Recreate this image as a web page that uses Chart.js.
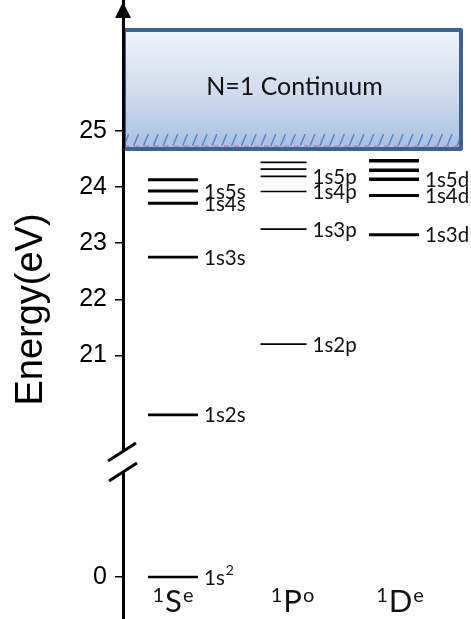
<!DOCTYPE html>
<html>
<head>
<meta charset="utf-8">
<script src="https://cdn.jsdelivr.net/npm/chart.js@4.4.1/dist/chart.umd.min.js"></script>
<style>
  html, body { margin: 0; padding: 0; background: #fff; }
  #wrap { width: 471px; height: 619px; }
</style>
</head>
<body>
<div id="wrap"><canvas id="levels" width="471" height="619"></canvas></div>
<script>
// Singlet terms of helium, one column each
const TERMS = ['S', 'P', 'D'];
const PARITY = ['e', 'o', 'e'];

// Level energies (eV) and their labels, per term; '^' marks a superscript
const S_LEVELS = [0, 19.94, 22.75, 23.71, 23.93, 24.13];
const S_LABELS = ['1s^2', '1s2s', '1s3s', '1s4s', '1s5s', ''];
const P_LEVELS = [21.20, 23.25, 23.92, 24.19, 24.32, 24.44];
const P_LABELS = ['1s2p', '1s3p', '1s4p', '1s5p', '', ''];
const D_LEVELS = [23.15, 23.85, 24.14, 24.30, 24.47];
const D_LABELS = ['1s3d', '1s4d', '1s5d', '', ''];

// Line weights of each level
const S_WIDTHS = [2.4, 2.8, 2.8, 3, 3, 3];
const P_WIDTHS = [1.6, 1.6, 1.6, 1.6, 1.6, 1.6];
const D_WIDTHS = [3, 3.2, 3.4, 3.4, 3.4];

const Y_TICKS = [0, 21, 22, 23, 24, 25];

// N=1 continuum: ionization threshold and top of the drawn band
const IONIZATION = 24.68;
const HATCH_TOP = 24.95;
const CONT_TOP = 26.80;

// broken axis: energies below BREAK_BELOW are lifted by LOW_SHIFT
const BREAK_BELOW = 19;
const LOW_SHIFT = 17.05;
const AXIS_BREAK = 19.1;
const Y_MIN = 16.30, Y_MAX = 27.335;
const X_MIN = -0.4525, X_MAX = 2.606;

const LABEL_FONT = '20.5px Lato, "Open Sans", sans-serif';
const SUP_FONT = '14px Lato, "Open Sans", sans-serif';
const TERM_NUDGE = [0, 9, 6];

class BrokenLinearScale extends Chart.LinearScale {
  static id = 'brokenLinear';
  static defaults = Chart.LinearScale.defaults;
  getPixelForValue(value) {
    if (value === null || value === undefined) return NaN;
    return super.getPixelForValue(value < BREAK_BELOW ? value + LOW_SHIFT : value);
  }
  buildTicks() {
    return Y_TICKS.map(v => ({ value: v }));
  }
}
Chart.register(BrokenLinearScale);

function levelPoints(levels, idx) {
  return levels.map(e => ({ x: idx, y: e }));
}

// text with optional superscript part after '^'
function drawSup(ctx, str, x, y, font, supFont, supRise) {
  const [base, sup] = str.split('^');
  ctx.font = font;
  ctx.fillText(base, x, y);
  if (sup) {
    const w = ctx.measureText(base).width;
    ctx.font = supFont;
    ctx.fillText(sup, x + w + 1, y - supRise);
  }
}

const continuum = {
  id: 'continuum',
  beforeDraw(chart) {
    const { ctx, chartArea: area } = chart;
    const y = chart.scales.y;
    const top = y.getPixelForValue(CONT_TOP);
    const bot = y.getPixelForValue(IONIZATION);
    const hTop = y.getPixelForValue(HATCH_TOP);
    const left = area.left + 1, right = area.right;
    ctx.save();
    const g = ctx.createLinearGradient(0, top, 0, bot);
    g.addColorStop(0, '#f1f4fa');
    g.addColorStop(0.55, '#cfdaec');
    g.addColorStop(1, '#a9bfdf');
    ctx.fillStyle = g;
    ctx.fillRect(left, top, right - left, bot - top);

    // hatching along the threshold
    ctx.save();
    ctx.beginPath();
    ctx.rect(left, hTop, right - left, bot - hTop - 3);
    ctx.clip();
    ctx.strokeStyle = '#4f86d6';
    ctx.lineWidth = 1.5;
    ctx.beginPath();
    for (let x = left - 10; x < right + 10; x += 9.8) {
      ctx.moveTo(x, bot - 3);
      ctx.lineTo(x + 5, hTop);
    }
    ctx.stroke();
    ctx.restore();

    ctx.setLineDash([5, 5]);
    ctx.strokeStyle = '#c274b6';
    ctx.lineWidth = 1.2;
    ctx.beginPath();
    ctx.moveTo(left, bot - 3);
    ctx.lineTo(right, bot - 3);
    ctx.stroke();
    ctx.setLineDash([]);

    ctx.strokeStyle = '#3f6391';
    ctx.lineWidth = 4;
    ctx.lineJoin = 'round';
    ctx.strokeRect(left, top, right - left, bot - top);

    ctx.fillStyle = '#111';
    ctx.font = '25px Lato, "Open Sans", sans-serif';
    ctx.textAlign = 'center';
    ctx.textBaseline = 'middle';
    ctx.fillText('N=1 Continuum', (left + right) / 2 + 2, (top + bot) / 2 - 3);
    ctx.restore();
  }
};

const annotations = {
  id: 'annotations',
  afterDraw(chart) {
    const { ctx, chartArea: area } = chart;
    const xs = chart.scales.x, ys = chart.scales.y;
    const ax = area.left;
    ctx.save();

    // arrow head on the energy axis
    ctx.fillStyle = '#000';
    ctx.beginPath();
    ctx.moveTo(ax, area.top + 2);
    ctx.lineTo(ax - 8, area.top + 18);
    ctx.lineTo(ax + 8, area.top + 18);
    ctx.closePath();
    ctx.fill();

    // axis break
    const yb = ys.getPixelForValue(AXIS_BREAK);
    ctx.fillStyle = '#fff';
    ctx.fillRect(ax - 4, yb - 11, 8, 22);
    ctx.strokeStyle = '#000';
    ctx.lineWidth = 3;
    ctx.beginPath();
    ctx.moveTo(ax - 15, yb - 1);
    ctx.lineTo(ax + 13, yb - 19);
    ctx.moveTo(ax - 14, yb + 19);
    ctx.lineTo(ax + 14, yb + 1);
    ctx.stroke();

    // level names
    ctx.fillStyle = '#111';
    ctx.textAlign = 'left';
    ctx.textBaseline = 'middle';
    chart.data.datasets.forEach((ds, i) => {
      ds.data.forEach((p, j) => {
        const label = ds.labels[j];
        if (!label) return;
        const px = xs.getPixelForValue(p.x) + ds.pointRadius + 6;
        const py = ys.getPixelForValue(p.y) + 1;
        drawSup(ctx, label, px, py, LABEL_FONT, SUP_FONT, 7);
      });
    });

    // term symbols under each column
    ctx.textBaseline = 'alphabetic';
    TERMS.forEach((t, i) => {
      const cx = xs.getPixelForValue(i) + TERM_NUDGE[i];
      ctx.font = '20px Lato, "Open Sans", sans-serif';
      const wPre = ctx.measureText('1').width;
      const wSup = ctx.measureText(PARITY[i]).width;
      ctx.font = '31px Lato, "Open Sans", sans-serif';
      const wBase = ctx.measureText(t).width;
      let x = cx - (wPre + wBase + wSup + 2) / 2;
      ctx.font = '20px Lato, "Open Sans", sans-serif';
      ctx.fillText('1', x, 602);
      x += wPre + 1;
      ctx.font = '31px Lato, "Open Sans", sans-serif';
      ctx.fillText(t, x, 612);
      x += wBase + 1;
      ctx.font = '20px Lato, "Open Sans", sans-serif';
      ctx.fillText(PARITY[i], x, 602);
    });
    ctx.restore();
  }
};

function termSet(levels, labels, widths, idx, radius) {
  return {
    data: levelPoints(levels, idx),
    labels: labels,
    pointStyle: 'line',
    pointRadius: radius,
    pointHoverRadius: radius,
    pointBorderWidth: widths,
    pointHoverBorderWidth: widths,
    pointBorderColor: '#000',
    pointBackgroundColor: '#000',
    showLine: false
  };
}

new Chart(document.getElementById('levels'), {
  type: 'scatter',
  data: {
    datasets: [
      termSet(S_LEVELS, S_LABELS, S_WIDTHS, 0, 25),
      termSet(P_LEVELS, P_LABELS, P_WIDTHS, 1, 23),
      termSet(D_LEVELS, D_LABELS, D_WIDTHS, 2, 25)
    ]
  },
  options: {
    responsive: false,
    animation: false,
    events: [],
    layout: { autoPadding: false, padding: { left: 0, right: 10, top: 0, bottom: 0 } },
    plugins: { legend: { display: false }, tooltip: { enabled: false } },
    scales: {
      x: { type: 'linear', display: false, min: X_MIN, max: X_MAX },
      y: {
        type: 'brokenLinear',
        min: Y_MIN,
        max: Y_MAX,
        border: { display: true, color: '#000', width: 3 },
        grid: { drawOnChartArea: false, drawTicks: true, tickLength: 8, color: '#000', lineWidth: 1.5 },
        ticks: {
          autoSkip: false,
          padding: 8,
          color: '#000',
          font: { family: '"Liberation Sans", Arial, sans-serif', size: 25 },
          callback: v => String(v)
        },
        title: {
          display: true,
          text: 'Energy(eV)',
          color: '#000',
          font: { family: '"Liberation Sans", Arial, sans-serif', size: 38 },
          padding: { top: 9, bottom: 0 }
        },
        afterFit(scale) {
          scale.width = 123;
          scale.paddingTop = 0;
          scale.paddingBottom = 0;
        }
      }
    }
  },
  plugins: [continuum, annotations]
});
</script>
</body>
</html>
